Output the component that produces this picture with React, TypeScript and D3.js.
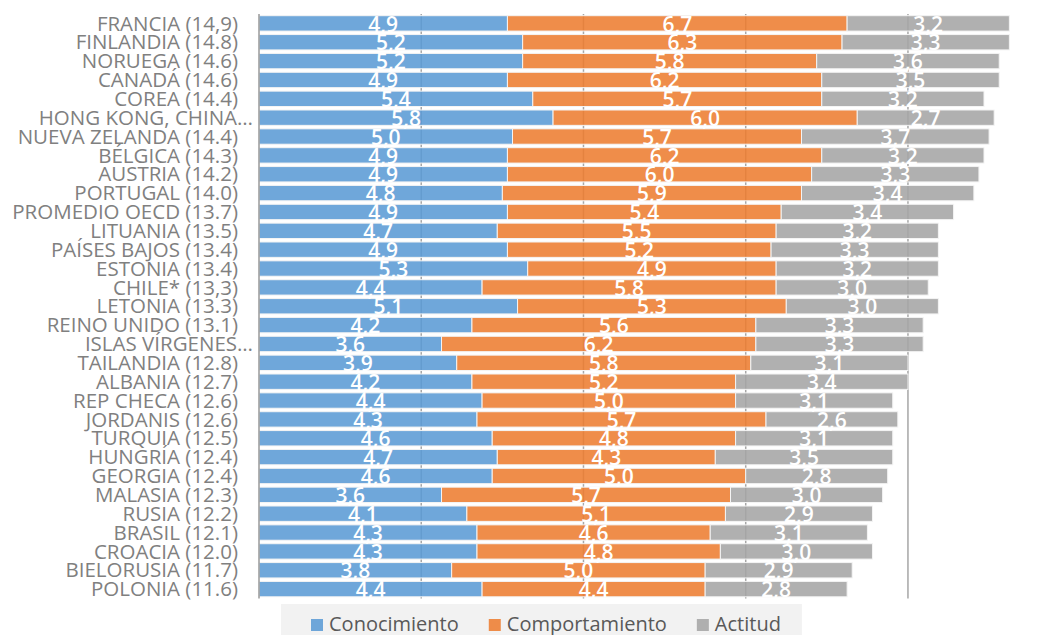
import React, { useEffect, useRef } from 'react';
import * as d3 from 'd3';

const categories = [
  'FRANCIA (14,9)', 'FINLANDIA (14.8)', 'NORUEGA (14.6)', 'CANADÁ (14.6)', 'COREA (14.4)',
  'HONG KONG, CHINA…', 'NUEVA ZELANDA (14.4)', 'BÉLGICA (14.3)', 'AUSTRIA (14.2)', 'PORTUGAL (14.0)',
  'PROMEDIO OECD (13.7)', 'LITUANIA (13.5)', 'PAÍSES BAJOS (13.4)', 'ESTONIA (13.4)', 'CHILE* (13,3)',
  'LETONIA (13.3)', 'REINO UNIDO (13.1)', 'ISLAS VÍRGENES…', 'TAILANDIA (12.8)', 'ALBANIA (12.7)',
  'REP CHECA (12.6)', 'JORDANIS (12.6)', 'TURQUIA (12.5)', 'HUNGRÍA (12.4)', 'GEORGIA (12.4)',
  'MALASIA (12.3)', 'RUSIA (12.2)', 'BRASIL (12.1)', 'CROACIA (12.0)', 'BIELORUSIA (11.7)', 'POLONIA (11.6)'
];

const conocimiento = [4.9, 5.2, 5.2, 4.9, 5.4, 5.8, 5.0, 4.9, 4.9, 4.8, 4.9, 4.7, 4.9, 5.3, 4.4, 5.1, 4.2, 3.6, 3.9, 4.2, 4.4, 4.3, 4.6, 4.7, 4.6, 3.6, 4.1, 4.3, 4.3, 3.8, 4.4];
const comportamiento = [6.7, 6.3, 5.8, 6.2, 5.7, 6.0, 5.7, 6.2, 6.0, 5.9, 5.4, 5.5, 5.2, 4.9, 5.8, 5.3, 5.6, 6.2, 5.8, 5.2, 5.0, 5.7, 4.8, 4.3, 5.0, 5.7, 5.1, 4.6, 4.8, 5.0, 4.4];
const actitud = [3.2, 3.3, 3.6, 3.5, 3.2, 2.7, 3.7, 3.2, 3.3, 3.4, 3.4, 3.2, 3.3, 3.2, 3.0, 3.0, 3.3, 3.3, 3.1, 3.4, 3.1, 2.6, 3.1, 3.5, 2.8, 3.0, 2.9, 3.1, 3.0, 2.9, 2.8];

const seriesNames = ['Conocimiento', 'Comportamiento', 'Actitud'];
const seriesColors = ['#5B9BD5', '#ED7D31', '#A5A5A5'];
const gridTicks = [0, 3.2, 6.4, 9.6, 12.8];

export default function App() {
  const ref = useRef<SVGSVGElement>(null);

  useEffect(() => {
    const svg = d3.select(ref.current);
    svg.selectAll('*').remove();
    const font = "'Open Sans', sans-serif";

    const rows = categories.map((c, i) => ({
      cat: c,
      Conocimiento: conocimiento[i],
      Comportamiento: comportamiento[i],
      Actitud: actitud[i],
    }));

    const x = d3.scaleLinear().domain([0, 16]).range([259, 259 + 16 * 50.7]);
    const y = d3.scaleBand<string>().domain(categories).range([14, 598.5]).paddingInner(0.185).paddingOuter(0.09);
    const color = d3.scaleOrdinal<string, string>().domain(seriesNames).range(seriesColors);

    // gridlines (behind bars)
    svg.append('g')
      .selectAll('line')
      .data(gridTicks.slice(1))
      .join('line')
      .attr('x1', (d) => x(d)).attr('x2', (d) => x(d))
      .attr('y1', 14).attr('y2', 598.5)
      .attr('stroke', '#a6a6a6').attr('stroke-width', 1.5);

    const stacked = d3.stack<any>().keys(seriesNames)(rows);

    const fmt = (v: number) => d3.format('.1f')(v).replace('.', ',');

    const layers = svg.append('g')
      .selectAll('g')
      .data(stacked)
      .join('g')
      .attr('fill', (d) => color(d.key));

    layers.selectAll('rect')
      .data((d) => d)
      .join('rect')
      .attr('x', (d) => x(d[0]))
      .attr('y', (d: any) => y(d.data.cat)!)
      .attr('width', (d) => x(d[1]) - x(d[0]))
      .attr('height', y.bandwidth())
      .attr('fill-opacity', 0.88)
      .attr('stroke', '#f4f4f4')
      .attr('stroke-width', 1);

    // data labels
    const labels = svg.append('g');
    stacked.forEach((layer) => {
      labels.append('g')
        .selectAll('text')
        .data(layer)
        .join('text')
        .attr('x', (d) => (x(d[0]) + x(d[1])) / 2)
        .attr('y', (d: any) => y(d.data.cat)! + y.bandwidth() + 0.5)
        .attr('text-anchor', 'middle')
        .attr('font-family', font)
        .attr('font-size', 21)
        .attr('font-weight', 600)
        .attr('fill', '#ffffff')
        .text((d: any) => fmt(d.data[layer.key]));
    });

    // axis line
    svg.append('line')
      .attr('x1', x(0)).attr('x2', x(0))
      .attr('y1', 14).attr('y2', 598.5)
      .attr('stroke', '#9a9a9a').attr('stroke-width', 1.5);

    // category labels
    svg.append('g')
      .selectAll('text')
      .data(categories)
      .join('text')
      .attr('x', (d) => (d.endsWith('…') ? 253 : 238))
      .attr('y', (d) => y(d)! + y.bandwidth() - 0.5)
      .attr('text-anchor', 'end')
      .attr('font-family', font)
      .attr('font-size', 20.5)
      .attr('fill', '#808080')
      .text((d) => d);

    // legend
    const legend = svg.append('g');
    const bg = legend.append('rect')
      .attr('y', 604).attr('height', 31)
      .attr('fill', '#f2f2f2');
    let cx = 311;
    const startX = cx - 30;
    seriesNames.forEach((name) => {
      legend.append('rect')
        .attr('x', cx).attr('y', 619).attr('width', 12).attr('height', 12)
        .attr('fill', color(name)).attr('fill-opacity', 0.88);
      const t = legend.append('text')
        .attr('x', cx + 18).attr('y', 631)
        .attr('font-family', font)
        .attr('font-size', 20)
        .attr('fill', '#595959')
        .text(name);
      const w = (t.node() as SVGTextElement).getComputedTextLength();
      cx = cx + 18 + w + 30;
    });
    bg.attr('x', startX).attr('width', cx - 30 + 21 - startX);
  }, []);

  return (
    <svg
      ref={ref}
      width={1060}
      height={635}
      style={{ position: 'absolute', left: 0, top: 0, background: '#ffffff' }}
    />
  );
}
